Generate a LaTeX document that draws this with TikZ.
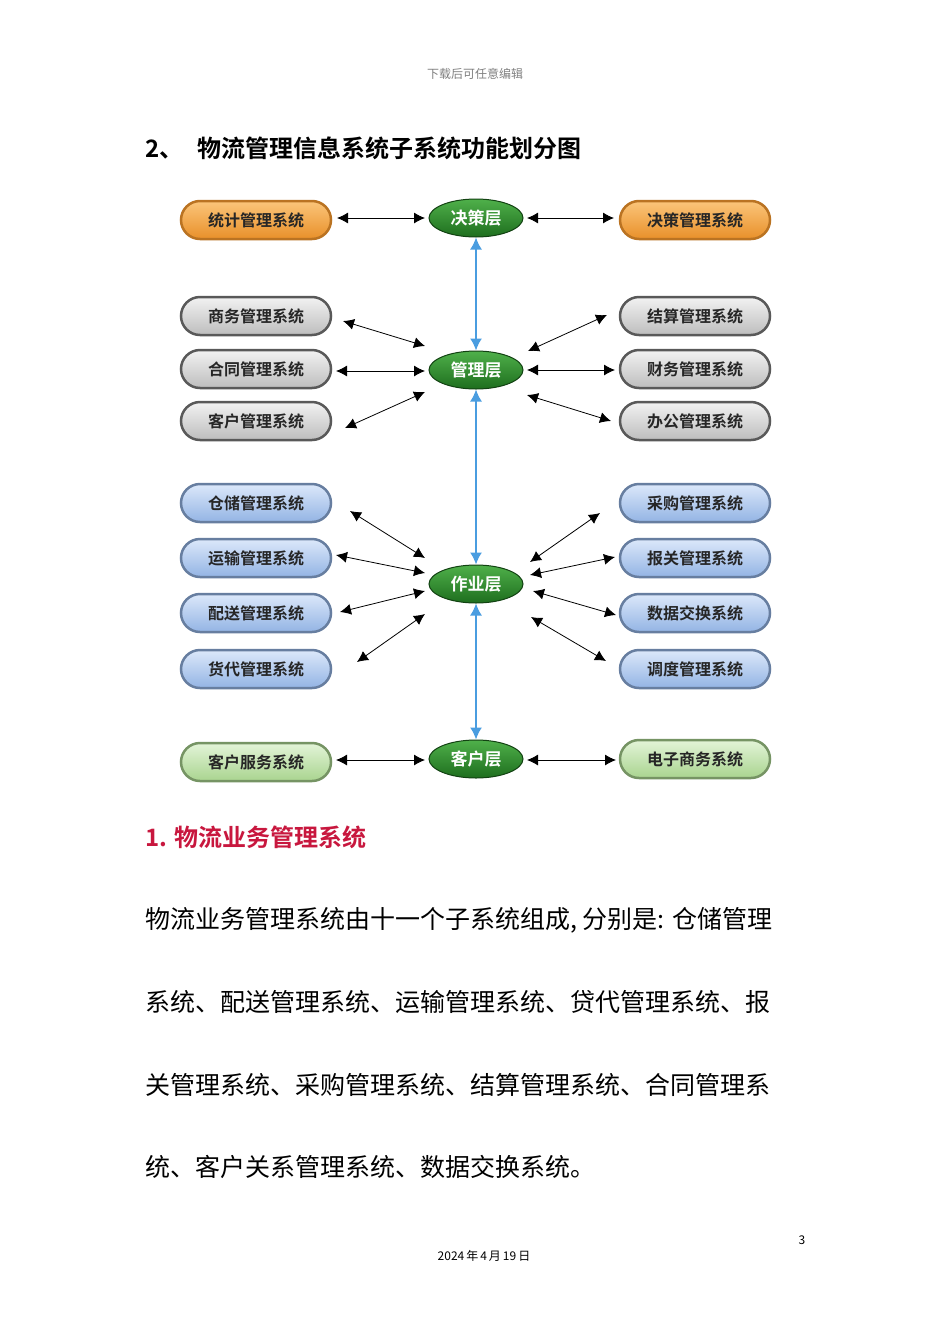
\documentclass[tikz,border=0pt]{standalone}
\usepackage{fontspec}
\setmainfont{Noto Sans CJK SC}
\newfontfamily\cjkb{Noto Sans CJK SC Bold}
\usetikzlibrary{arrows.meta,shapes.geometric}
\definecolor{orgA}{HTML}{FBC57A}\definecolor{orgB}{HTML}{E8902A}
\definecolor{gryA}{HTML}{F2F2F2}\definecolor{gryB}{HTML}{BDBDBD}
\definecolor{bluA}{HTML}{DCE8FA}\definecolor{bluB}{HTML}{93B4E4}
\definecolor{grnA}{HTML}{E3F4D8}\definecolor{grnB}{HTML}{A9D48F}
\definecolor{ctrA}{HTML}{4FB04A}\definecolor{ctrB}{HTML}{1E6E1E}
\definecolor{arrblue}{HTML}{4A9DE0}\definecolor{redt}{HTML}{C8173E}
\tikzset{
 pill/.style={rounded corners=19pt,minimum width=150pt,minimum height=38pt,line width=2.5pt,
   font=\cjkb\fontsize{16}{16}\selectfont,text=black!85,inner sep=0pt},
 po/.style={pill,top color=orgA,bottom color=orgB,draw=orgB!80!black},
 pg/.style={pill,top color=gryA,bottom color=gryB,draw=gray!70!black},
 pb/.style={pill,top color=bluA,bottom color=bluB,draw=bluB!70!black},
 pl/.style={pill,top color=grnA,bottom color=grnB,draw=grnB!70!black},
 ctr/.style={ellipse,minimum width=94pt,minimum height=38pt,inner sep=0pt,top color=ctrA,bottom color=ctrB,
   draw=ctrB!60!black,line width=1pt,text=white,font=\cjkb\fontsize{17}{17}\selectfont},
 ba/.style={{Latex[length=11pt,width=11pt]}-{Latex[length=11pt,width=11pt]},line width=0.8pt,black},
 bl/.style={{Latex[length=12pt,width=12pt]}-{Latex[length=12pt,width=12pt]},line width=1.6pt,arrblue},
 body/.style={anchor=west,font=\fontsize{25}{25}\selectfont,inner sep=0pt},
}
\begin{document}
\begin{tikzpicture}[x=1pt,y=-1pt]
\useasboundingbox[fill=white] (0,0) rectangle (950,1344);
\node[font=\fontsize{12}{12}\selectfont,text=gray] (hdr) at (475,74) {下载后可任意编辑};
\node[anchor=west,font=\cjkb\fontsize{24}{24}\selectfont,inner sep=0pt] (ttl) at (145,148) {2、\hspace{14pt}物流管理信息系统子系统功能划分图};
\node[ctr] (d) at (476,218) {决策层};
\node[ctr] (m) at (476,370) {管理层};
\node[ctr] (o) at (476,584) {作业层};
\node[ctr] (c) at (476,759) {客户层};
\node[po] (L1) at (256,220) {统计管理系统};
\node[po] (R1) at (695,220) {决策管理系统};
\node[pg] (L2) at (256,316) {商务管理系统};
\node[pg] (L3) at (256,369) {合同管理系统};
\node[pg] (L4) at (256,421) {客户管理系统};
\node[pg] (R2) at (695,316) {结算管理系统};
\node[pg] (R3) at (695,369) {财务管理系统};
\node[pg] (R4) at (695,421) {办公管理系统};
\node[pb] (L5) at (256,503) {仓储管理系统};
\node[pb] (L6) at (256,558) {运输管理系统};
\node[pb] (L7) at (256,613) {配送管理系统};
\node[pb] (L8) at (256,669) {货代管理系统};
\node[pb] (R5) at (695,503) {采购管理系统};
\node[pb] (R6) at (695,558) {报关管理系统};
\node[pb] (R7) at (695,613) {数据交换系统};
\node[pb] (R8) at (695,669) {调度管理系统};
\node[pl] (L9) at (256,762) {客户服务系统};
\node[pl] (R9) at (695,759) {电子商务系统};
\foreach \n/\x/\y in {a1/337/218,a2/425/218,b1/527/218,b2/614/218,
 c1/343/321,c2/425/346,c3/336/371,c4/425/371,c5/345/428,c6/425/392,
 e1/607/315,e2/528/351,e3/615/370,e4/527/370,e5/611/421,e6/527/395,
 f1/350/511,f2/425/558,f3/336/555,f4/425/573,f5/340/612,f6/425/591,f7/357/662,f8/425/614,
 g1/600/513,g2/530/562,g3/615/557,g4/530/575,g5/616/615,g6/533/591,g7/606/661,g8/531/617,
 h1/336/760,h2/425/760,h3/527/760,h4/616/760}
 {\coordinate (\n) at (\x,\y);}
\foreach \p/\q in {a1/a2,b1/b2,c1/c2,c3/c4,c5/c6,e1/e2,e3/e4,e5/e6,f1/f2,f3/f4,f5/f6,f7/f8,g1/g2,g3/g4,g5/g6,g7/g8,h1/h2,h3/h4}
 {\draw[ba] (\p) -- (\q);}
\draw[bl] (d.south) -- (m.north);
\draw[bl] (m.south) -- (o.north);
\draw[bl] (o.south) -- (c.north);
\node[anchor=west,font=\cjkb\fontsize{24}{24}\selectfont,text=redt,inner sep=0pt] (sec) at (145,837) {1. 物流业务管理系统};
\node[body] (t1) at (145,920) {物流业务管理系统由十一个子系统组成, 分别是: 仓储管理};
\node[body] (t2) at (145,1002) {系统、配送管理系统、运输管理系统、贷代管理系统、报};
\node[body] (t3) at (145,1085) {关管理系统、采购管理系统、结算管理系统、合同管理系};
\node[body] (t4) at (145,1167) {统、客户关系管理系统、数据交换系统。};
\node[font=\fontsize{12}{12}\selectfont] (pg) at (802,1240) {3};
\node[font=\fontsize{12}{12}\selectfont] (dt) at (484,1256) {2024\,年\,4\,月\,19\,日};
\end{tikzpicture}
\end{document}
